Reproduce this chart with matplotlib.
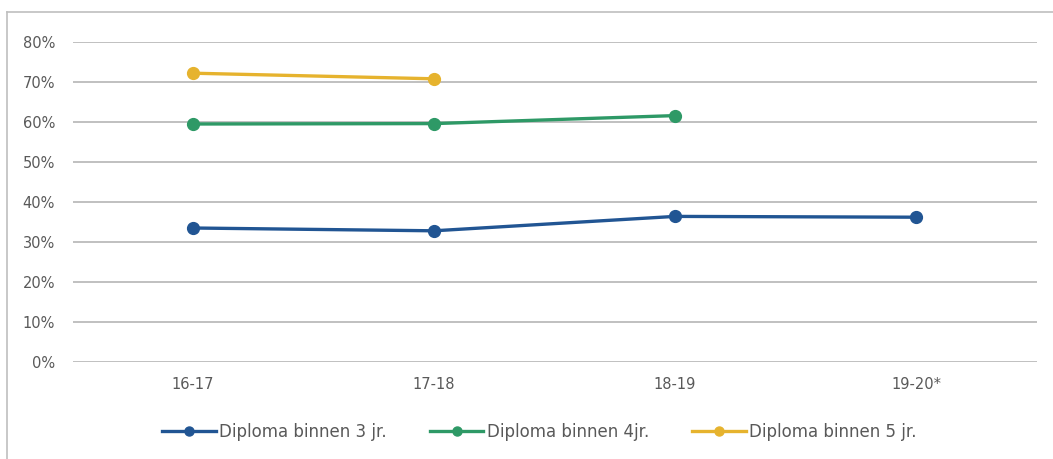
import matplotlib
matplotlib.use("Agg")
import matplotlib.pyplot as plt
from matplotlib.lines import Line2D
import numpy as np

categories = ["16-17", "17-18", "18-19", "19-20*"]
diploma_3 = [0.335, 0.328, 0.364, 0.362]
diploma_4 = [0.595, 0.596, 0.616]
diploma_5 = [0.722, 0.708]
labels = ["Diploma binnen 3 jr.", "Diploma binnen 4jr.", "Diploma binnen 5 jr."]
colors = ["#215593", "#2E9966", "#E6B32E"]
yticks = [0, 0.1, 0.2, 0.3, 0.4, 0.5, 0.6, 0.7, 0.8]

W, H = 1053, 459
fig = plt.figure(figsize=(W / 100, H / 100), dpi=100)
ax = fig.add_axes([72.5 / W, 1 - 362 / H, (1036.5 - 72.5) / W, (362 - 42) / H])

x = np.arange(len(categories))
for vals, lab, col in zip([diploma_3, diploma_4, diploma_5], labels, colors):
    ax.plot(x[:len(vals)], vals, color=col, lw=2.4, marker="o", ms=8.5,
            label=lab, solid_capstyle="round", zorder=3)

ax.set_xlim(-0.5, len(categories) - 0.5)
ax.set_ylim(0, 0.8)
ax.set_yticks(yticks)
ax.set_yticklabels([f"{int(round(v*100))}%" for v in yticks])
ax.set_xticks(x)
ax.set_xticklabels(categories)
ax.grid(axis="y", color="#C0C0C0", lw=1.4)
ax.set_axisbelow(True)
for s in ax.spines.values():
    s.set_visible(False)
ax.tick_params(axis="both", length=0, colors="#595959", labelsize=10.5)
ax.tick_params(axis="y", pad=12.5)
ax.tick_params(axis="x", pad=11)

handles = [Line2D([0], [0], color=c, lw=2.4, marker="o", ms=6.5) for c in colors]
fig.legend(handles, labels, loc="center", bbox_to_anchor=(539.5 / W, 1 - 432 / H),
           ncol=3, frameon=False, fontsize=12, handlelength=3.2,
           handletextpad=0.2, columnspacing=2.6, labelcolor="#595959")

# outer frame
fig.add_artist(Line2D([7 / W, 7 / W], [0, 1 - 12 / H], color="#BFBFBF", lw=1.2, transform=fig.transFigure))
fig.add_artist(Line2D([7 / W, 1], [1 - 12 / H, 1 - 12 / H], color="#BFBFBF", lw=1.2, transform=fig.transFigure))

fig.savefig("out.png", dpi=100, facecolor="white")
